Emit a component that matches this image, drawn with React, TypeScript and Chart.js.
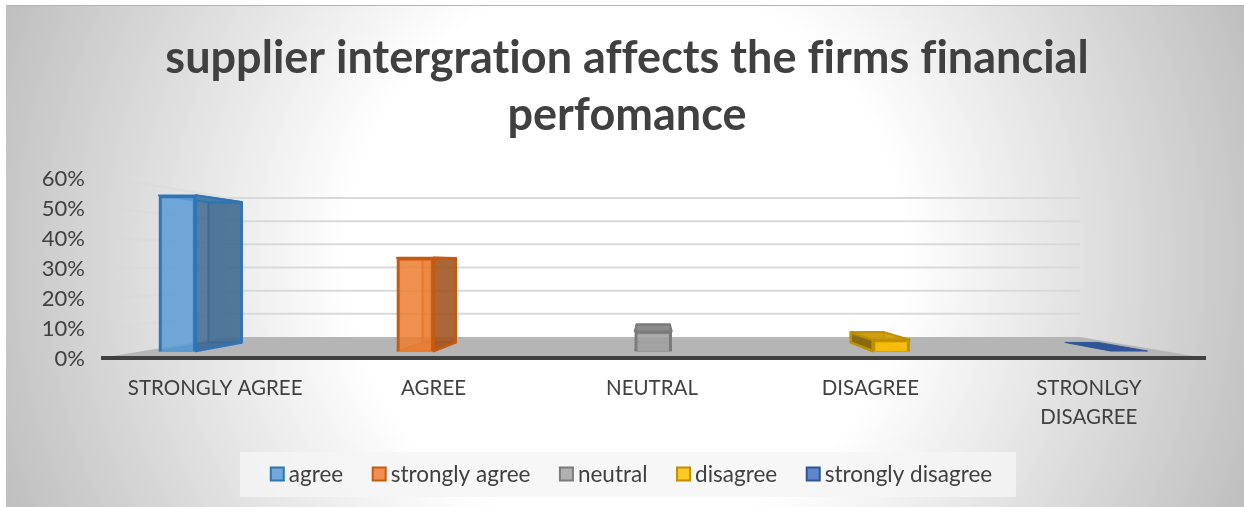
import React, { useEffect, useRef } from "react";
import { Chart, registerables } from "chart.js";

Chart.register(...registerables);

const categories: (string | string[])[] = ["STRONGLY AGREE", "AGREE", "NEUTRAL", "DISAGREE", ["STRONLGY", "DISAGREE"]];
const seriesNames = ["agree", "strongly agree", "neutral", "disagree", "strongly disagree"];
const seriesValues = [55, 33, 7, 4, 0];
const fillColors = ["#5b9bd5", "#ed7d31", "#a5a5a5", "#ffc000", "#4472c4"];
const edgeColors = ["#2e75b6", "#c55a11", "#7b7b7b", "#bf9000", "#2f5597"];
const titleLines = ["supplier intergration affects the firms financial", "perfomance"];
const yTicks = [0, 10, 20, 30, 40, 50, 60];

const FONT = "Lato";
const TEXT = "#404040";
const DEPTH = 0.1;

function alpha(hex: string, a: number, shade = 1) {
  const n = parseInt(hex.slice(1), 16);
  const r = Math.round(((n >> 16) & 255) * shade);
  const g = Math.round(((n >> 8) & 255) * shade);
  const b = Math.round((n & 255) * shade);
  return `rgba(${r},${g},${b},${a})`;
}

const backgroundPlugin = {
  id: "panel",
  beforeDraw(chart: any) {
    const { ctx, width, height } = chart;
    ctx.save();
    ctx.fillStyle = "#ffffff";
    ctx.fillRect(0, 0, width, height);
    const cx = 625;
    const cy = 256;
    ctx.beginPath();
    ctx.rect(6, 5, width - 6, height - 5);
    ctx.clip();
    const g = ctx.createRadialGradient(cx, cy, 0, cx, cy, 680);
    g.addColorStop(0, "#ffffff");
    g.addColorStop(0.41, "#ffffff");
    g.addColorStop(1, "#bdbdbd");
    ctx.fillStyle = g;
    ctx.fillRect(0, 0, width, height);
    ctx.fillStyle = "#b4b4b4";
    ctx.fillRect(6, 5, width - 6, 1);
    ctx.restore();
    // keeps the glyphs apart so that no ligatures are formed
    ctx.letterSpacing = "0.01px";
  },
  beforeDatasetsDraw(chart: any) {
    const { ctx, chartArea, scales } = chart;
    const wall = scales.yWall;
    const vx = (chartArea.left + chartArea.right) / 2 + 2;
    const floorFrontY = scales.y.getPixelForValue(0);
    const backY = wall.getPixelForValue(0);
    const frontL = chartArea.left - 5;
    const frontR = chartArea.right + 8;
    const backL = frontL + 127;
    const backR = frontR - 126;
    ctx.save();
    // floor
    ctx.fillStyle = "#b5b5b5";
    ctx.beginPath();
    ctx.moveTo(frontL, floorFrontY);
    ctx.lineTo(backL, backY);
    ctx.lineTo(backR, backY);
    ctx.lineTo(frontR, floorFrontY);
    ctx.closePath();
    ctx.fill();
    // back wall and side wall gridlines
    yTicks.forEach((t) => {
      const y = wall.getPixelForValue(t);
      if (t > 0) {
        ctx.strokeStyle = "#d9d9d9";
        ctx.lineWidth = 2;
        ctx.beginPath();
        ctx.moveTo(backL, y);
        ctx.lineTo(backR, y);
        ctx.stroke();
        ctx.strokeStyle = "rgba(217,217,217,0.55)";
        ctx.beginPath();
        ctx.moveTo(frontL + 9, scales.y.getPixelForValue(t));
        ctx.lineTo(backL, y);
        ctx.stroke();
      }
    });
    // floor front edge
    ctx.fillStyle = TEXT;
    ctx.fillRect(frontL, floorFrontY - 2, frontR - frontL, 4);
    ctx.restore();

    // depth faces of each bar, built from the bar element the scale produced
    const vy = floorFrontY - 93;
    chart.data.datasets.forEach((ds: any, di: number) => {
      chart.getDatasetMeta(di).data.forEach((bar: any, idx: number) => {
        const v = ds.data[idx];
        const p = bar.getProps(["x", "y", "base", "width"], true);
        const l = p.x - p.width / 2;
        const r = p.x + p.width / 2;
        const back = (x: number, y: number): [number, number] => [x + (vx - x) * DEPTH, y + (vy - y) * DEPTH];
        const bl = back(l, p.base), br = back(r, p.base), tl = back(l, p.y), tr = back(r, p.y);
        const fill = fillColors[di];
        const edge = edgeColors[di];
        const face = (pts: [number, number][], color: string, width: number) => {
          ctx.beginPath();
          pts.forEach((q, i) => (i ? ctx.lineTo(q[0], q[1]) : ctx.moveTo(q[0], q[1])));
          ctx.closePath();
          ctx.fillStyle = color;
          ctx.fill();
          ctx.strokeStyle = edge;
          ctx.lineWidth = width;
          ctx.lineJoin = "round";
          ctx.stroke();
        };
        ctx.save();
        if (v.y === 0) {
          face([[l, p.base], [r, p.base], br, bl], edge, 1);
        } else {
          face([tl, tr, br, bl], alpha(fill, 0.3, 0.7), 2);
          face([[l, p.base], [r, p.base], br, bl], alpha(fill, 0.55, 0.8), 1);
          if (vx > r) face([[r, p.y], tr, br, [r, p.base]], alpha(fill, 0.85, 0.68), 2.5);
          if (vx < l) face([[l, p.y], tl, bl, [l, p.base]], alpha(fill, 0.85, 0.5), 2.5);
          face([[l, p.y], [r, p.y], tr, tl], alpha(fill, 0.9, 0.8), 2);
        }
        ctx.restore();
      });
    });
  },
  afterDraw(chart: any) {
    const { ctx } = chart;
    const font = `22.5px ${FONT}`;
    const boxLeft = 240;
    const boxTop = 452;
    const boxW = 776;
    const boxH = 45;
    ctx.save();
    ctx.fillStyle = "rgba(245,245,245,0.8)";
    ctx.fillRect(boxLeft, boxTop, boxW, boxH);
    ctx.font = font;
    ctx.textBaseline = "middle";
    ctx.textAlign = "left";
    const gapBox = 4;
    const swatch = 15;
    const gapItem = 28.5;
    const widths = chart.data.datasets.map((d: any) => swatch + gapBox + ctx.measureText(d.label).width);
    const total = widths.reduce((a: number, b: number) => a + b, 0) + gapItem * (widths.length - 1);
    let x = boxLeft + (boxW - total) / 2 + 3;
    const my = boxTop + boxH / 2;
    chart.data.datasets.forEach((d: any, i: number) => {
      ctx.fillStyle = d.backgroundColor;
      ctx.strokeStyle = d.borderColor;
      ctx.lineWidth = 2;
      ctx.fillRect(x + 1, my - 7, swatch - 2, swatch - 2);
      ctx.strokeRect(x + 1, my - 7, swatch - 2, swatch - 2);
      ctx.fillStyle = TEXT;
      ctx.fillText(d.label, x + swatch + gapBox, my);
      x += widths[i] + gapItem;
    });
    ctx.restore();
  },
};

export default function App() {
  const ref = useRef<HTMLCanvasElement>(null);
  useEffect(() => {
    const chart = new Chart(ref.current!, {
      type: "bar",
      plugins: [backgroundPlugin],
      data: {
        labels: categories as any,
        datasets: seriesNames.map((name, i) => ({
          label: name,
          data: [{ x: i, y: seriesValues[i] }],
          xAxisID: "xBars",
          yAxisID: "yBars",
          grouped: false,
          barThickness: 37,
          backgroundColor: alpha(fillColors[i], 0.85),
          borderColor: edgeColors[i],
          borderWidth: 3,
        })) as any,
      },
      options: {
        responsive: false,
        animation: false,
        layout: { padding: { left: 10, right: 0, top: 0, bottom: 0 } },
        plugins: {
          legend: { display: false },
          tooltip: { enabled: false },
          title: {
            display: true,
            text: titleLines,
            color: TEXT,
            font: { family: FONT, size: 45, weight: "bold", lineHeight: 1.267 },
            padding: { top: 30, bottom: 34 },
          },
        },
        scales: {
          x: {
            type: "category",
            position: "bottom",
            grid: { display: false, drawTicks: false },
            border: { display: false },
            ticks: {
              color: TEXT,
              font: { family: FONT, size: 20.5, lineHeight: 1.41 },
              maxRotation: 0,
              autoSkip: false,
              padding: 16,
            },
            afterFit: (s: any) => {
              s.height = 149;
            },
          },
          xBars: { type: "linear", display: false, offset: false, min: -0.3, max: 4.29 },
          y: {
            type: "linear",
            position: "left",
            min: 0,
            max: 60,
            grid: { display: false, drawTicks: false },
            border: { display: false },
            ticks: {
              stepSize: 10,
              color: TEXT,
              padding: 21,
              labelOffset: 1,
              font: { family: FONT, size: 22 },
              callback: (v: any) => v + "%",
            },
            afterFit: (s: any) => {
              s.width = 96;
            },
          },
          yBars: { type: "linear", display: false, min: -2.47, max: 61.13 },
          yWall: {
            type: "linear",
            position: "right",
            min: -9.06,
            max: 68.6,
            grid: { display: false, drawTicks: false },
            border: { display: false },
            ticks: { display: false },
            afterFit: (s: any) => {
              s.width = 46;
            },
          },
        },
      } as any,
    });
    return () => chart.destroy();
  }, []);
  return (
    <canvas
      ref={ref}
      width={1244}
      height={507}
      style={{ position: "fixed", left: 0, top: 0, width: 1244, height: 507, display: "block" }}
    />
  );
}
